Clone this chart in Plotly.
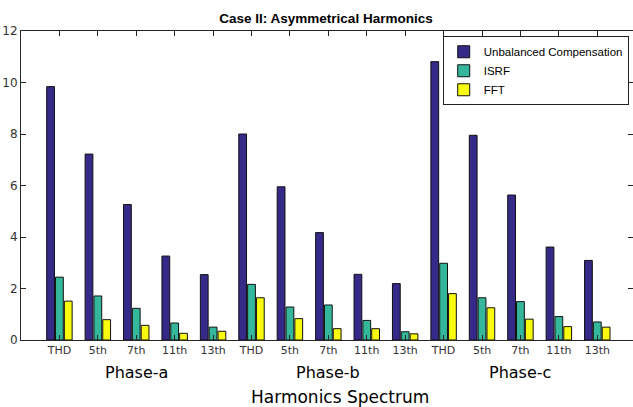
import plotly.graph_objects as go

harmonics = ["THD", "5th", "7th", "11th", "13th"]
phases = ["Phase-a", "Phase-b", "Phase-c"]
tick_labels = harmonics * 3

unbalanced = [9.84, 7.22, 5.26, 3.26, 2.54,
              8.00, 5.95, 4.17, 2.55, 2.19,
              10.81, 7.95, 5.63, 3.61, 3.09]
isrf = [2.44, 1.71, 1.23, 0.66, 0.50,
        2.16, 1.28, 1.36, 0.76, 0.32,
        2.98, 1.64, 1.49, 0.91, 0.70]
fft = [1.51, 0.79, 0.57, 0.26, 0.34,
       1.64, 0.83, 0.44, 0.44, 0.24,
       1.80, 1.25, 0.81, 0.52, 0.50]

series = [
    ("Unbalanced Compensation", unbalanced, "#352a87"),
    ("ISRF", isrf, "#35b79b"),
    ("FFT", fft, "#f9fb0e"),
]

xpos = list(range(1, len(tick_labels) + 1))

fig = go.Figure()
for name, vals, col in series:
    fig.add_trace(go.Bar(
        x=xpos, y=vals, name=name,
        marker=dict(color=col, line=dict(color="#111111", width=1)),
    ))

axcol = "#262626"
fig.update_layout(
    width=633, height=407,
    margin=dict(l=21, r=0, t=31, b=67),
    paper_bgcolor="white", plot_bgcolor="white",
    barmode="group", bargap=0.31, bargroupgap=0.12,
    font=dict(family="DejaVu Sans", color=axcol, size=11),
    title=dict(text="<b>Case II: Asymmetrical Harmonics</b>",
               font=dict(family="Liberation Sans", size=13.5, color="black"),
               x=0.515, xanchor="center", y=0.955, yanchor="middle"),
    legend=dict(x=0.993, xanchor="right", y=0.983, yanchor="top",
                bordercolor="#222222", borderwidth=1, bgcolor="white",
                font=dict(family="Liberation Sans", size=11.5, color="black"),
                tracegroupgap=0, itemwidth=30),
    showlegend=True,
)
fig.update_xaxes(
    range=[0, 15.93], tickvals=xpos, ticktext=tick_labels,
    ticks="inside", ticklen=5, tickcolor=axcol,
    showline=True, linecolor=axcol, linewidth=1, mirror="ticks",
    showgrid=False, zeroline=False,
    tickfont=dict(family="DejaVu Sans", size=11, color="#333333"),
)
fig.update_yaxes(
    range=[0, 12], tickvals=[0, 2, 4, 6, 8, 10, 12],
    ticks="inside", ticklen=5, tickcolor=axcol,
    showline=True, linecolor=axcol, linewidth=1, mirror="ticks",
    showgrid=False, zeroline=False,
    tickfont=dict(family="DejaVu Sans", size=12, color="#333333"),
)

for i, ph in enumerate(phases):
    center = xpos[i * len(harmonics) + len(harmonics) // 2]
    fig.add_annotation(x=center, xref="x", y=-0.104, yref="paper",
                       text=ph, showarrow=False, yanchor="middle",
                       font=dict(family="DejaVu Sans", size=16, color="black"))

fig.add_annotation(x=(340 - 21) / 612, xref="paper", y=-0.186, yref="paper",
                   text="Harmonics Spectrum", showarrow=False, yanchor="middle",
                   font=dict(family="DejaVu Sans", size=17, color="black"))

fig.write_html("out.html")
